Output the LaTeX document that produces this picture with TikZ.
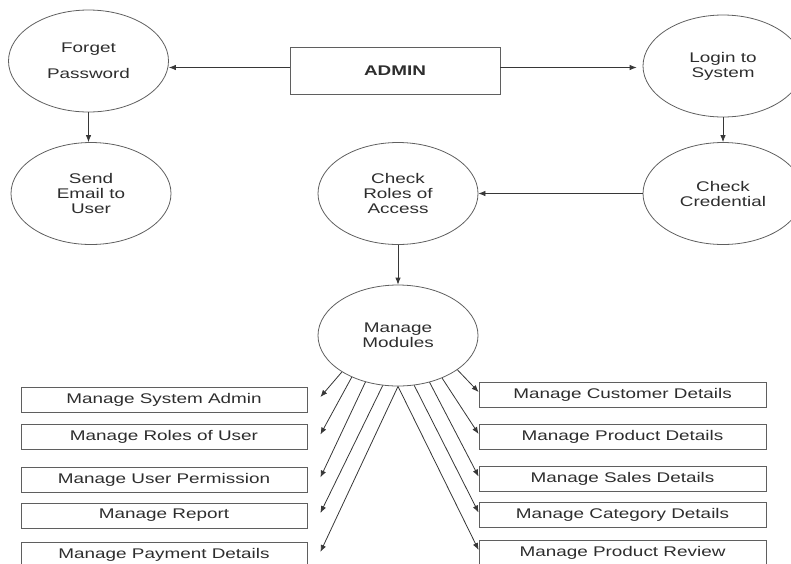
\documentclass[tikz,border=0pt]{standalone}
\usepackage{fontspec}
\setmainfont{Liberation Sans}[FakeStretch=1.35]
\usepackage{xcolor}
\usepackage{tikz}
\usetikzlibrary{arrows.meta, shapes.geometric}
\definecolor{dfdline}{RGB}{55,55,55}
\definecolor{dfdedge}{RGB}{95,95,95}
\definecolor{dfdtext}{RGB}{45,45,45}

\begin{document}
\begin{tikzpicture}[x=1pt, y=-1pt, font=\fontsize{14}{15}\selectfont, text=dfdtext,
  proc/.style={draw=dfdedge, line width=0.8pt, ellipse, minimum width=160pt, minimum height=102pt, inner sep=0pt, align=center},
  item/.style={draw=dfdedge, line width=0.8pt, minimum width=286pt, minimum height=25pt, inner sep=0pt},
  flow/.style={draw=dfdline, line width=0.8pt, -{Latex[length=7pt,width=5.5pt]}}]

\clip (0,0) rectangle (791,563);

% Admin and the first processes
\node[draw=dfdedge, line width=0.8pt, minimum width=210pt, minimum height=47pt, font=\fontsize{14}{15}\selectfont\bfseries] (admin) at (395,70.5) {ADMIN};
\node[proc] (forget) at (88.5,61) {Forget\\[11pt]Password};
\node[proc] (sendmail) at (91,193.5) {Send\\Email to\\User};
\node[proc] (login) at (723,66) {Login to\\System};
\node[proc] (cred) at (723,193.5) {Check\\Credential};
\node[proc] (roles) at (398,193.5) {Check\\Roles of\\Access};
\node[proc, minimum height=101pt] (modules) at (398,335.5) {Manage\\Modules};

\draw[flow] ([yshift=3pt]admin.west) -- ([yshift=3pt]admin.west -| forget.east);
\draw[flow] ([yshift=3pt]admin.east) -- ([yshift=3pt,xshift=-6pt]admin.east -| login.west);
\draw[flow] (forget.south) -- (forget.south |- sendmail.north);
\draw[flow] (login.south) -- (cred.north);
\draw[flow] (cred.west) -- (roles.east);
\draw[flow] (roles.south) -- (modules.north);

% Modules on the left
\foreach \n/\y/\t in {sysadm/399.5/Manage System Admin, roleuser/437/Manage Roles of User, perm/480/Manage User Permission, report/515.5/Manage Report, payment/554.5/Manage Payment Details}
  \node[item] (\n) at (164,\y) {\t};

% Modules on the right
\foreach \n/\y/\t in {customer/394.5/Manage Customer Details, product/436.5/Manage Product Details, sales/479/Manage Sales Details, category/515/Manage Category Details, review/552.5/Manage Product Review}
  \node[item, minimum width=287pt] (\n) at (622.5,\y) {\t};

\foreach \n/\a in {sysadm/213, roleuser/222, perm/235, report/253, payment/270}
  \draw[flow] (modules.\a) -- ([xshift=13pt,yshift=2.5pt]\n.east);
\foreach \n/\a in {customer/330, product/316, sales/304, category/288, review/270}
  \draw[flow] (modules.\a) -- ([yshift=2.5pt]\n.west);

\end{tikzpicture}
\end{document}
